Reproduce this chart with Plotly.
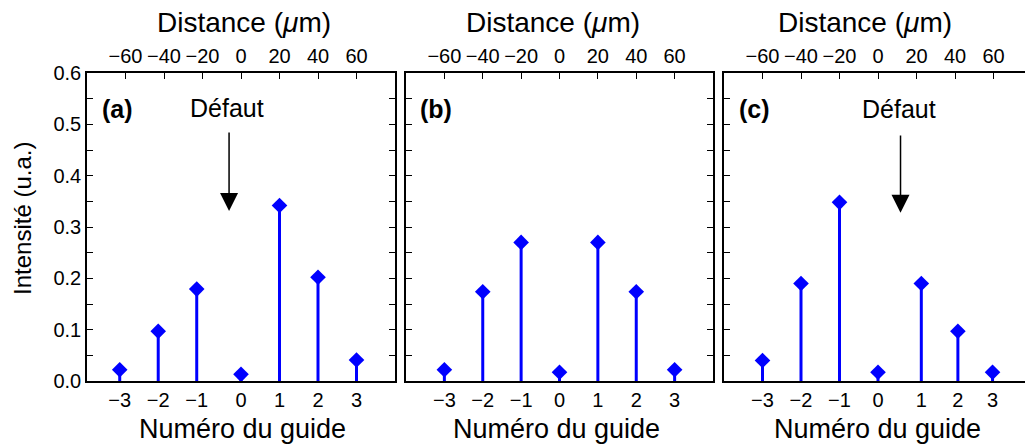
import plotly.graph_objects as go

# ---- data ----
guide_labels = ["\u22123", "\u22122", "\u22121", "0", "1", "2", "3"]
pos_a = [-63, -43, -23, 0, 20, 40, 60]          # guide positions (µm), panel a
pos_b = [-60, -40, -20, 0, 20, 40, 60]          # panel b
pos_c = [-60, -40, -20, 0, 22.5, 41.5, 59.5]    # panel c
int_a = [0.022, 0.097, 0.179, 0.013, 0.342, 0.202, 0.041]
int_b = [0.022, 0.174, 0.270, 0.017, 0.270, 0.174, 0.022]
int_c = [0.040, 0.190, 0.348, 0.017, 0.190, 0.097, 0.017]
dist_ticks = [-60, -40, -20, 0, 20, 40, 60]
panel_names = ["(a)", "(b)", "(c)"]

FONT = "Liberation Sans, Arial, Helvetica, sans-serif"
BLUE = "#0000ff"
W, H = 1025, 445
PLOT_TOP, PLOT_BOT = 73, 381
PH = PLOT_BOT - PLOT_TOP

ydom = [(H - PLOT_BOT) / H, (H - PLOT_TOP) / H]
xdoms = [[87 / W, 395 / W], [406 / W, 713 / W], [724 / W, 1.0]]
xranges = [[-80, 80], [-80, 80], [-80, -80 + 301 / 1.925]]

fig = go.Figure()

panels = [(pos_a, int_a), (pos_b, int_b), (pos_c, int_c)]
for i, (pos, vals) in enumerate(panels):
    xb = "x" if i == 0 else f"x{2 * i + 1}"
    xt = f"x{2 * i + 2}"
    yy = "y" if i == 0 else f"y{i + 1}"
    # invisible trace so the top (distance) axis is drawn
    fig.add_trace(go.Scatter(x=dist_ticks, y=[None] * len(dist_ticks), xaxis=xt, yaxis=yy,
                             mode="markers", showlegend=False, hoverinfo="skip"))
    sx, sy = [], []
    for p, v in zip(pos, vals):
        sx += [p, p, None]
        sy += [0, v, None]
    fig.add_trace(go.Scatter(x=sx, y=sy, mode="lines", xaxis=xb, yaxis=yy,
                             line=dict(color=BLUE, width=3), hoverinfo="skip",
                             showlegend=False))
    fig.add_trace(go.Scatter(x=pos, y=vals, mode="markers", xaxis=xb, yaxis=yy,
                             marker=dict(symbol="diamond", size=12, color=BLUE),
                             showlegend=False, cliponaxis=False))

layout = dict(
    width=W, height=H,
    margin=dict(l=0, r=0, t=0, b=0, autoexpand=False),
    paper_bgcolor="white", plot_bgcolor="white",
    font=dict(family=FONT, size=20, color="black"),
    showlegend=False,
)

TICKFONT = dict(size=20, family=FONT, color="black")
for i in range(3):
    bn = 2 * i + 1
    tn = 2 * i + 2
    yn = i + 1
    bkey = "xaxis" if bn == 1 else f"xaxis{bn}"
    tkey = f"xaxis{tn}"
    ykey = "yaxis" if yn == 1 else f"yaxis{yn}"
    bref = "x" if bn == 1 else f"x{bn}"
    yref = "y" if yn == 1 else f"y{yn}"
    pos = panels[i][0]
    layout[bkey] = dict(domain=xdoms[i], anchor=yref, range=xranges[i],
                        tickmode="array", tickvals=pos, ticktext=guide_labels,
                        ticks="", showline=True, linecolor="black", linewidth=1.5,
                        showgrid=False, zeroline=False, automargin=False,
                        tickfont=TICKFONT)
    layout[tkey] = dict(overlaying=bref, side="top", anchor=yref, range=xranges[i],
                        tickmode="array", tickvals=dist_ticks,
                        ticks="inside", ticklen=6, tickwidth=1.2, tickcolor="black",
                        showline=True, linecolor="black", linewidth=1.5,
                        showgrid=False, zeroline=False, automargin=False,
                        tickfont=TICKFONT)
    layout[ykey] = dict(domain=ydom, anchor=bref, range=[0, 0.6],
                        tickmode="linear", tick0=0, dtick=0.1, tickformat=".1f",
                        ticks="inside", ticklen=6, tickwidth=1.2, tickcolor="black",
                        minor=dict(dtick=0.05, ticks="inside", ticklen=6,
                                   tickwidth=1.2, tickcolor="black"),
                        showline=True, linecolor="black", linewidth=1.5,
                        mirror=("ticks" if i < 2 else False),
                        showticklabels=(i == 0), automargin=False,
                        showgrid=False, zeroline=False,
                        tickfont=TICKFONT)

# right-side ticks of panel c (frame is cut by the image edge)
layout["yaxis4"] = dict(overlaying="y3", side="right", anchor="x5", range=[0, 0.6],
                        tickmode="linear", tick0=0, dtick=0.1,
                        ticks="inside", ticklen=2, tickwidth=1.2, tickcolor="black",
                        minor=dict(dtick=0.05, ticks="inside", ticklen=2,
                                   tickwidth=1.2, tickcolor="black"),
                        showline=False, showticklabels=False, automargin=False,
                        showgrid=False, zeroline=False)

fig.update_layout(**layout)


def ydomain_of(px):
    """pixel row -> fraction of the y-axis domain"""
    return (PLOT_BOT - px) / PH


ann = []
brefs = ["x", "x3", "x5"]
yrefs = ["y", "y2", "y3"]
title_x = [1.5, -3.6, -6.9]
bottom_x = [0.7, -1.7, -0.4]
for i in range(3):
    ann.append(dict(text=f"<b>{panel_names[i]}</b>", xref=brefs[i], yref=yrefs[i],
                    x=-73.5, y=0.53, xanchor="left", yanchor="middle",
                    showarrow=False, font=dict(size=25, family=FONT, color="black")))
    ann.append(dict(text="Distance (<i>\u03bc</i>m)", xref=brefs[i], yref=yrefs[i] + " domain",
                    x=title_x[i], y=ydomain_of(22), xanchor="center", yanchor="middle",
                    showarrow=False, font=dict(size=28, family=FONT, color="black")))
    ann.append(dict(text="Numéro du guide", xref=brefs[i], yref=yrefs[i] + " domain",
                    x=bottom_x[i], y=ydomain_of(429), xanchor="center", yanchor="middle",
                    showarrow=False, font=dict(size=27, family=FONT, color="black")))

# defect labels and arrows
for xr, yr, tx, ty, axx, tipy, taily in [("x", "y", -7.3, 0.531, -6.2, 0.331, 0.487),
                                          ("x5", "y3", 10.8, 0.53, 11.7, 0.328, 0.481)]:
    ann.append(dict(text="Défaut", xref=xr, yref=yr, x=tx, y=ty,
                    xanchor="center", yanchor="middle", showarrow=False,
                    font=dict(size=25, family=FONT, color="black")))
    ann.append(dict(text="", xref=xr, yref=yr, x=axx, y=tipy,
                    axref=xr, ayref=yr, ax=axx, ay=taily,
                    showarrow=True, arrowhead=2, arrowsize=2.4, arrowwidth=1.5,
                    arrowcolor="black"))

ann.append(dict(text="Intensité (u.a.)", xref="x domain", yref="y domain",
                x=(22 - 87) / 308, y=ydomain_of(219), xanchor="center", yanchor="middle",
                textangle=-90, showarrow=False,
                font=dict(size=24, family=FONT, color="black")))

fig.update_layout(annotations=ann)
fig.write_html("out.html", config={"displayModeBar": False},
               post_script="document.body.style.margin='0';document.body.style.overflow='hidden';")
